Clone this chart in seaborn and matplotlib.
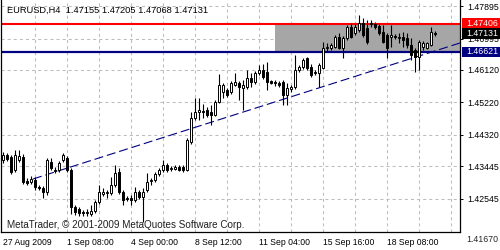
import matplotlib
matplotlib.use("Agg")
import matplotlib.pyplot as plt
import seaborn as sns
import numpy as np
import pandas as pd
from matplotlib.patches import Rectangle

# ---------------- data (EURUSD H4 candles) ----------------
opens = [1.43618, 1.43757, 1.43701, 1.43340, 1.43618, 1.43701, 1.43034, 1.43006, 1.43062, 1.42867,
         1.42840, 1.42728, 1.43562, 1.43340, 1.43340, 1.43618, 1.43674, 1.43340, 1.42311, 1.42256,
         1.42172, 1.42172, 1.42117, 1.42200, 1.42450, 1.42673, 1.42701, 1.42701, 1.42923, 1.43284,
         1.42728, 1.42562, 1.42562, 1.42506, 1.42728, 1.42589, 1.42784, 1.43034, 1.43062, 1.43229,
         1.43340, 1.43479, 1.43368, 1.43368, 1.43423, 1.43423, 1.43340, 1.44118, 1.44786, 1.44952,
         1.44980, 1.45008, 1.44952, 1.44869, 1.45230, 1.45508, 1.45564, 1.45508, 1.45703, 1.45759,
         1.45620, 1.45647, 1.45898, 1.45786, 1.46037, 1.46120, 1.46064, 1.45814, 1.45786, 1.45759,
         1.45786, 1.45425, 1.45592, 1.45647, 1.46120, 1.46203, 1.46454, 1.46203, 1.46037, 1.46037,
         1.46176, 1.46732, 1.46732, 1.46759, 1.47037, 1.46732, 1.47010, 1.47315, 1.47149, 1.47232,
         1.47427, 1.47288, 1.47399, 1.47399, 1.47343, 1.47176, 1.47093, 1.47037, 1.47065, 1.47010,
         1.47037, 1.47010, 1.46815, 1.46676, 1.46481, 1.46759, 1.46732, 1.46815, 1.47155]
highs = [1.43840, 1.43813, 1.43757, 1.43896, 1.43896, 1.43785, 1.43118, 1.43173, 1.43145, 1.42923,
         1.42895, 1.43674, 1.43674, 1.43423, 1.43590, 1.43813, 1.43729, 1.43396, 1.42367, 1.42311,
         1.42228, 1.42256, 1.42367, 1.42506, 1.42923, 1.42840, 1.42784, 1.43145, 1.43479, 1.43396,
         1.42784, 1.42617, 1.42645, 1.42867, 1.42784, 1.42840, 1.43257, 1.43118, 1.43284, 1.43396,
         1.43618, 1.43535, 1.43451, 1.43479, 1.43479, 1.43479, 1.44230, 1.44952, 1.45342, 1.45342,
         1.45175, 1.45091, 1.45147, 1.45286, 1.46009, 1.45759, 1.45620, 1.45814, 1.46037, 1.45814,
         1.45842, 1.46120, 1.46037, 1.46092, 1.46259, 1.46287, 1.46342, 1.45842, 1.45842, 1.45814,
         1.45842, 1.45759, 1.45703, 1.46537, 1.46259, 1.46454, 1.46481, 1.46287, 1.46120, 1.46315,
         1.46898, 1.46871, 1.46871, 1.47093, 1.47149, 1.47065, 1.47371, 1.47427, 1.47399, 1.47649,
         1.47566, 1.47510, 1.47510, 1.47454, 1.47399, 1.47371, 1.47149, 1.47371, 1.47121, 1.47149,
         1.47176, 1.47149, 1.47010, 1.46732, 1.46954, 1.46926, 1.46898, 1.47315, 1.47205]
lows = [1.43535, 1.43590, 1.43229, 1.43284, 1.43562, 1.42951, 1.42923, 1.42951, 1.42784, 1.42784,
        1.42562, 1.42645, 1.43340, 1.43257, 1.43284, 1.43562, 1.43284, 1.42117, 1.42089, 1.42061,
        1.42061, 1.42061, 1.42061, 1.42145, 1.42395, 1.42617, 1.42562, 1.42645, 1.42867, 1.42673,
        1.42367, 1.42478, 1.42367, 1.42450, 1.42534, 1.41894, 1.42728, 1.42923, 1.43006, 1.43173,
        1.43284, 1.43284, 1.43312, 1.43340, 1.43312, 1.43284, 1.43312, 1.44063, 1.44730, 1.44730,
        1.44786, 1.44813, 1.44591, 1.44841, 1.45202, 1.45342, 1.45369, 1.45453, 1.45675, 1.45286,
        1.45008, 1.45592, 1.45647, 1.45731, 1.45981, 1.45870, 1.45564, 1.45731, 1.45675, 1.45647,
        1.45147, 1.45147, 1.45508, 1.45592, 1.46064, 1.46148, 1.46120, 1.45925, 1.45981, 1.45647,
        1.46148, 1.46620, 1.46676, 1.46732, 1.46704, 1.46454, 1.46954, 1.47010, 1.47093, 1.47176,
        1.47037, 1.46843, 1.47315, 1.47260, 1.47093, 1.46871, 1.46454, 1.46759, 1.46982, 1.46871,
        1.46759, 1.46732, 1.46398, 1.46064, 1.46120, 1.46676, 1.46704, 1.46787, 1.47068]
closes = [1.43757, 1.43646, 1.43284, 1.43757, 1.43729, 1.43006, 1.42979, 1.43090, 1.42867, 1.42840,
          1.42728, 1.43618, 1.43396, 1.43312, 1.43535, 1.43757, 1.43340, 1.42311, 1.42172, 1.42145,
          1.42145, 1.42145, 1.42200, 1.42450, 1.42728, 1.42728, 1.42728, 1.42923, 1.43257, 1.42728,
          1.42506, 1.42534, 1.42506, 1.42728, 1.42589, 1.42728, 1.43006, 1.43062, 1.43229, 1.43340,
          1.43479, 1.43340, 1.43396, 1.43423, 1.43340, 1.43340, 1.44174, 1.44786, 1.44952, 1.45008,
          1.44952, 1.44869, 1.44869, 1.45230, 1.45703, 1.45703, 1.45425, 1.45759, 1.45786, 1.45647,
          1.45703, 1.45898, 1.45786, 1.46037, 1.46120, 1.45925, 1.45786, 1.45759, 1.45759, 1.45703,
          1.45425, 1.45620, 1.45647, 1.46120, 1.46203, 1.46398, 1.46176, 1.45981, 1.46064, 1.46259,
          1.46732, 1.46759, 1.46815, 1.47037, 1.46732, 1.47010, 1.47315, 1.47037, 1.47315, 1.47427,
          1.47093, 1.46898, 1.47427, 1.47315, 1.47149, 1.46898, 1.46732, 1.47093, 1.47037, 1.47037,
          1.46954, 1.46815, 1.46537, 1.46481, 1.46898, 1.46871, 1.46871, 1.47176, 1.47131]

time_labels = ["27 Aug 2009", "1 Sep 08:00", "4 Sep 00:00", "8 Sep 12:00",
               "11 Sep 04:00", "15 Sep 16:00", "18 Sep 08:00"]
time_label_bars = [0, 16, 32, 48, 64, 80, 96]
price_ticks = [1.47895, 1.46995, 1.46120, 1.45220, 1.44320, 1.43445, 1.42545]
price_tick_labels = ["1.47895", "1.46995", "1.46120", "1.45220", "1.44320", "1.43445", "1.42545"]
bottom_price_label = "1.41670"

resistance = 1.47406
support = 1.46621
bid = 1.47131
zone_start_bar = 68
trend_bars = [7.5, 114.25]
trend_prices = [1.43090, 1.46871]

header = "EURUSD,H4  1.47155 1.47205 1.47068 1.47131"
copyright_txt = "MetaTrader, \u00a9 2001-2009 MetaQuotes Software Corp."

# ---------------- style ----------------
sns.set_style("white")
plt.rcParams["font.family"] = ["Liberation Sans", "DejaVu Sans"]
plt.rcParams["lines.scale_dashes"] = False

W, H = 500, 250
fig = plt.figure(figsize=(5, 2.5), dpi=100)
fig.patch.set_facecolor("white")
ax = fig.add_axes([1 / W, 18 / H, 459 / W, 232 / H])
ax.set_facecolor("white")

xmin, xmax = -0.5, 114.25
ymin, ymax = 1.41616, 1.48066
ax.set_xlim(xmin, xmax)
ax.set_ylim(ymin, ymax)

# grid
grid_kw = dict(color="#bdbdbd", lw=0.75, linestyle=(0, (2.2, 2.2)), zorder=0)
for p in price_ticks:
    ax.axhline(p, **grid_kw)
for b in range(8, 115, 8):
    ax.axvline(b, **grid_kw)

# support / resistance zone
ax.add_patch(Rectangle((zone_start_bar, support), xmax - zone_start_bar, resistance - support,
                       facecolor="#a6a6a6", edgecolor="none", zorder=1))
ax.axhline(resistance, color="#ff0000", lw=1.5, zorder=2)
ax.axhline(support, color="#000080", lw=1.6, zorder=2)

# trend line
tl = pd.DataFrame({"bar": trend_bars, "price": trend_prices})
sns.lineplot(data=tl, x="bar", y="price", ax=ax, color="#000080", lw=0.8, zorder=3)
ax.lines[-1].set_dashes((6.5, 2.8))

# candles
df = pd.DataFrame({"o": opens, "h": highs, "l": lows, "c": closes})
df["bar"] = np.arange(len(df))
up = df["c"] >= df["o"]
ax.vlines(df["bar"], df["l"], df["h"], color="black", lw=0.8, zorder=4)
body_lo = np.minimum(df["o"], df["c"])
body_h = np.maximum(np.abs(df["c"] - df["o"]), 0.00004)
ax.bar(df["bar"], body_h, bottom=body_lo, width=0.62,
       color=np.where(up, "white", "black"), edgecolor="black", lw=0.7, zorder=5)

# axes styling
ax.spines["top"].set_visible(False)
for s in ["left", "bottom", "right"]:
    ax.spines[s].set_color("black")
    ax.spines[s].set_linewidth(0.9)

ax.yaxis.tick_right()
ax.set_yticks(price_ticks)
ax.set_yticklabels(price_tick_labels)
ax.tick_params(axis="y", which="both", direction="out", length=2.5, width=0.7,
               pad=2.5, labelsize=6.3, colors="black")
ax.set_xticks(time_label_bars)
ax.set_xticklabels(time_labels, ha="left")
ax.tick_params(axis="x", direction="out", length=2.5, width=0.7, pad=2,
               labelsize=6.2, colors="black")
ax.set_xlabel("")
ax.set_ylabel("")

# right-side price boxes
def price_box(price, face, text):
    yc = (ymax - price) / (ymax - ymin) * 232
    fig.patches.append(Rectangle((462 / W, 1 - (yc + 5.3) / H), 38 / W, 10.6 / H,
                                 transform=fig.transFigure, facecolor=face,
                                 edgecolor="none", zorder=10))
    fig.text(466 / W, 1 - yc / H, text, color="white", fontsize=6.3,
             va="center", ha="left", zorder=11)

price_box(resistance, "#ff0000", "1.47406")
price_box(bid, "#000000", "1.47131")
price_box(support, "#000080", "1.46621")

fig.text(466 / W, 1 - 239.5 / H, bottom_price_label, fontsize=6.3, va="center", ha="left")

fig.text(7 / W, 1 - 10 / H, header, fontsize=6.7, va="center", ha="left", color="black")
fig.text(7 / W, 1 - 225 / H, copyright_txt, fontsize=7.15, va="center", ha="left",
         color="#202020", zorder=12)

fig.savefig("out.png", dpi=100, facecolor="white")
